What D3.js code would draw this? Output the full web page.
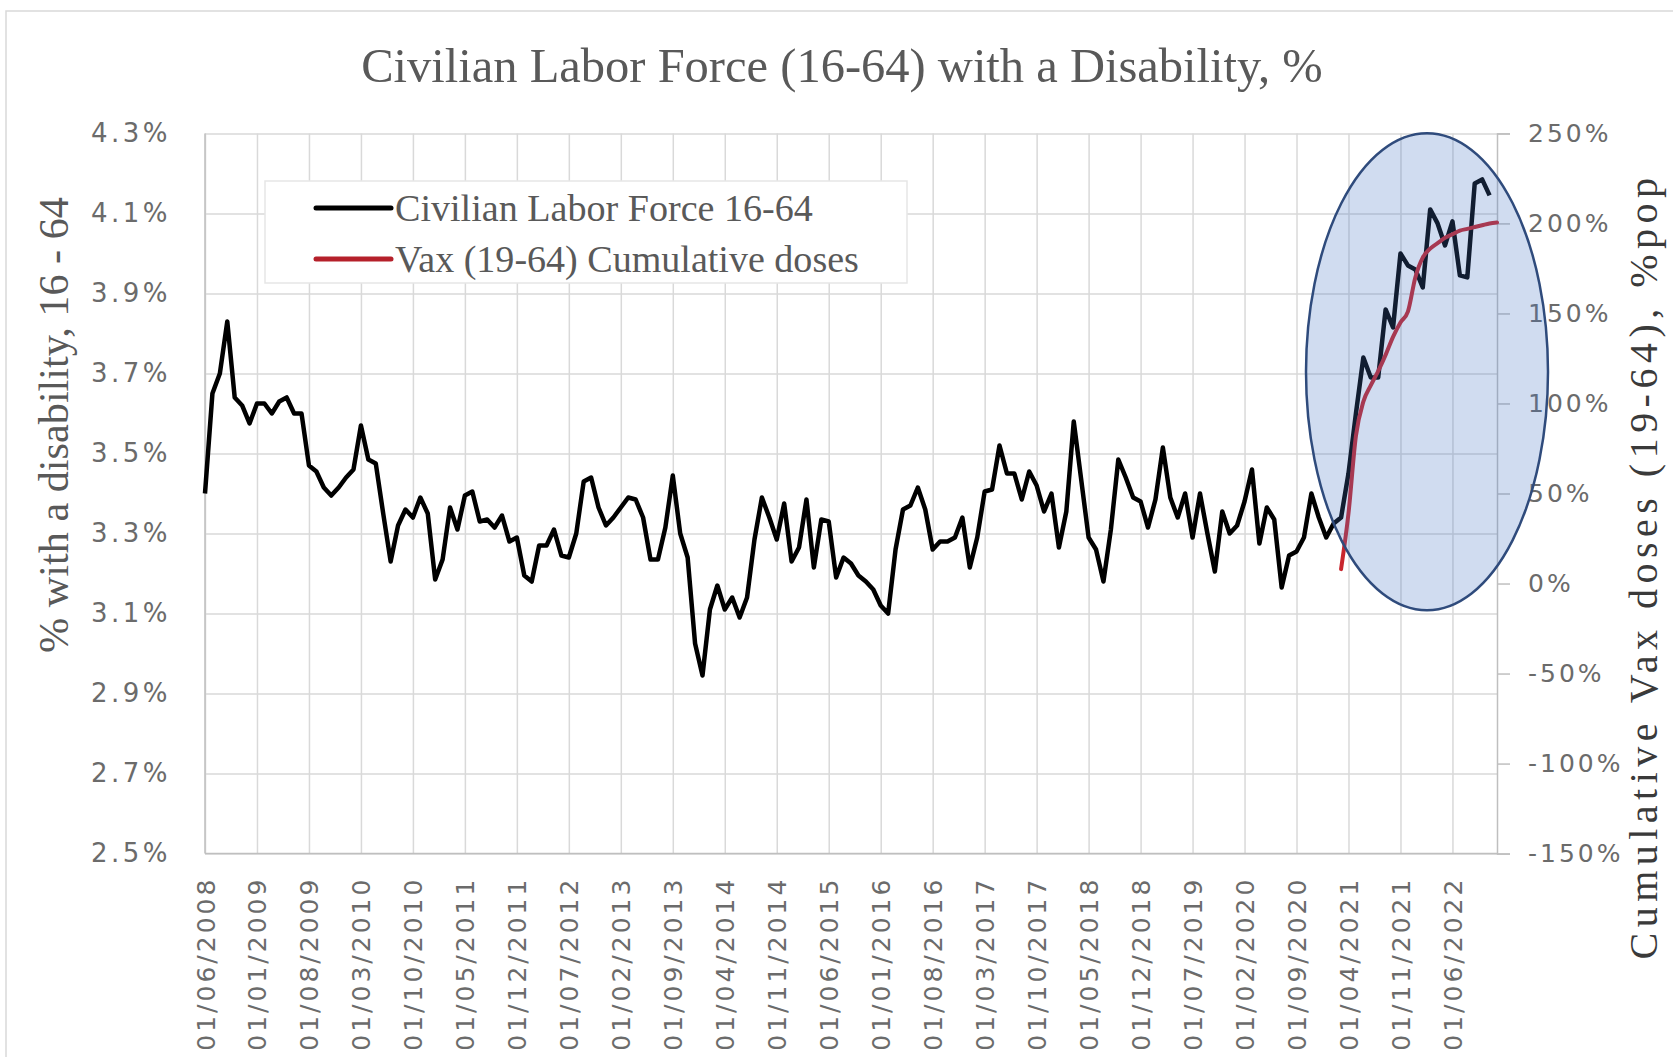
<!DOCTYPE html>
<html><head><meta charset="utf-8">
<script src="https://cdn.jsdelivr.net/npm/d3@7"></script>
<style>body{margin:0;background:#fff}</style>
</head><body>
<svg id="c" width="1673" height="1057"></svg>
<script>
// ---- data ----
const firstMonth = "01/06/2008";
const lastMonth = "01/12/2022";
const disability = [
3.40,3.65,3.70,3.83,3.64,3.62,3.575,3.625,3.625,3.60,
3.63,3.64,3.60,3.60,3.47,3.455,3.415,3.395,3.415,3.44,
3.46,3.57,3.485,3.475,3.35,3.23,3.32,3.36,3.34,3.39,
3.35,3.185,3.235,3.365,3.31,3.395,3.405,3.33,3.335,3.315,
3.345,3.28,3.29,3.195,3.18,3.27,3.27,3.31,3.245,3.24,
3.30,3.43,3.44,3.365,3.32,3.34,3.365,3.39,3.385,3.34,
3.235,3.235,3.315,3.445,3.30,3.24,3.025,2.945,3.11,3.17,
3.11,3.14,3.09,3.14,3.285,3.39,3.34,3.285,3.375,3.23,
3.265,3.385,3.215,3.335,3.33,3.19,3.24,3.225,3.195,3.18,
3.16,3.12,3.10,3.26,3.36,3.37,3.415,3.36,3.26,3.28,
3.28,3.29,3.34,3.215,3.29,3.405,3.41,3.52,3.45,3.45,
3.385,3.455,3.42,3.355,3.40,3.265,3.355,3.58,3.435,3.29,
3.26,3.18,3.31,3.485,3.44,3.39,3.38,3.315,3.385,3.515,
3.39,3.34,3.40,3.29,3.40,3.30,3.205,3.355,3.30,3.32,
3.38,3.46,3.275,3.365,3.335,3.165,3.245,3.255,3.29,3.40,
3.34,3.29,3.325,3.34,3.45,3.60,3.74,3.69,3.69,3.86,
3.815,4.00,3.97,3.96,3.915,4.11,4.075,4.02,4.08,3.945,
3.94,4.175,4.185,4.145
];
const vaxStart = "01/03/2021";
const vaxDoses = [8, 39, 82, 101, 110, 118, 127, 137, 145, 151, 170, 181, 186, 189, 192, 194, 196, 197, 198, 199, 200, 200.5];
const leftTicks = [2.5, 2.7, 2.9, 3.1, 3.3, 3.5, 3.7, 3.9, 4.1, 4.3];
const rightTicks = [-150, -100, -50, 0, 50, 100, 150, 200, 250];
const dateTicks = ["01/06/2008","01/01/2009","01/08/2009","01/03/2010","01/10/2010","01/05/2011","01/12/2011","01/07/2012","01/02/2013","01/09/2013","01/04/2014","01/11/2014","01/06/2015","01/01/2016","01/08/2016","01/03/2017","01/10/2017","01/05/2018","01/12/2018","01/07/2019","01/02/2020","01/09/2020","01/04/2021","01/11/2021","01/06/2022"];
const titleText = "Civilian Labor Force (16-64) with a Disability, %";
const leftTitle = "% with a disability, 16 - 64";
const rightTitle = "Cumulative Vax doses (19-64), %pop";
const seriesNames = ["Civilian Labor Force 16-64", "Vax (19-64) Cumulative doses"];

// ---- layout ----
const parse = d3.timeParse("%d/%m/%Y"), fmt = d3.timeFormat("%d/%m/%Y");
const months = d3.timeMonth.range(parse(firstMonth), d3.timeMonth.offset(parse(lastMonth), 1)).map(fmt);
const L = 205, R = 1497, T = 133.4, B = 853.6;
const svg = d3.select("#c");
const x = d3.scaleLinear().domain([0, months.length - 1]).range([L, R]);
const yL = d3.scaleLinear().domain([2.5, 4.3]).range([B, T]);
const yR = d3.scaleLinear().domain([-150, 250]).range([B, T]);
const grid = "#d9d9d9", tickCol = "#6b6b6b";
const sans = "'DejaVu Sans', sans-serif", serif = "'Liberation Serif', 'DejaVu Serif', serif";

// frame
svg.append("rect").attr("x", 6).attr("y", 11).attr("width", 1700).attr("height", 1100)
  .attr("fill", "none").attr("stroke", "#d9d9d9").attr("stroke-width", 1.5);

function fit(sel, w) {
  const fs = parseFloat(sel.attr("font-size"));
  const cw = sel.node().getComputedTextLength();
  sel.attr("font-size", fs * w / cw);
}
function spread(sel, w) {
  const n = sel.text().length;
  const cw = sel.node().getComputedTextLength();
  sel.attr("letter-spacing", (w - cw) / n);
}

// title
const t = svg.append("text").attr("x", 842).attr("y", 82).attr("text-anchor", "middle")
  .attr("font-family", serif).attr("font-size", 40).attr("fill", "#595959").text(titleText);
fit(t, 962);

// horizontal grid + left labels
const gL = svg.append("g").attr("transform", `translate(${L},0)`)
  .call(d3.axisLeft(yL).tickValues(leftTicks).tickSize(-(R - L)).tickPadding(34).tickFormat(d => d.toFixed(1) + "%"));
gL.select(".domain").remove();
gL.selectAll("line").attr("stroke", grid).attr("stroke-width", 1.5);
gL.selectAll("text").attr("font-family", sans).attr("font-size", 26).attr("letter-spacing", 3.5).attr("fill", tickCol);

// vertical grid + bottom labels
const tickIdx = dateTicks.map(d => months.indexOf(d));
const gB = svg.append("g").attr("transform", `translate(0,${B})`)
  .call(d3.axisBottom(x).tickValues(tickIdx).tickSize(-(B - T)).tickFormat(i => months[i]));
gB.select(".domain").remove();
gB.selectAll("line").attr("stroke", grid).attr("stroke-width", 1.5);
gB.selectAll("text").attr("font-family", sans).attr("font-size", 25).attr("letter-spacing", 3).attr("fill", tickCol)
  .attr("transform", "rotate(-90)").attr("text-anchor", "end").attr("x", -23).attr("y", 0).attr("dy", "0.36em");

// axis lines
svg.append("line").attr("x1", L).attr("x2", L).attr("y1", T).attr("y2", B).attr("stroke", "#bfbfbf").attr("stroke-width", 1.5);
svg.append("line").attr("x1", L).attr("x2", R).attr("y1", B).attr("y2", B).attr("stroke", "#bfbfbf").attr("stroke-width", 1.5);

// right axis
const gR = svg.append("g").attr("transform", `translate(${R},0)`)
  .call(d3.axisRight(yR).tickValues(rightTicks).tickSize(13).tickPadding(18).tickFormat(d => d + "%"));
gR.select(".domain").attr("stroke", "#bfbfbf").attr("stroke-width", 1.5);
gR.selectAll("line").attr("stroke", "#bfbfbf").attr("stroke-width", 1.5);
gR.selectAll("text").attr("font-family", sans).attr("font-size", 25).attr("letter-spacing", 3).attr("fill", tickCol);

// axis titles
const lt = svg.append("text").attr("transform", "translate(68,425) rotate(-90)").attr("text-anchor", "middle")
  .attr("font-family", serif).attr("font-size", 32).attr("fill", "#595959").text(leftTitle);
fit(lt, 456);
const rt = svg.append("text").attr("transform", "translate(1657,566) rotate(-90)").attr("text-anchor", "middle")
  .attr("font-family", serif).attr("font-size", 40).attr("fill", "#3a3a3a").text(rightTitle);
spread(rt, 787);

// series
const line = d3.line().defined(d => d[1] != null).x(d => x(d[0]));
svg.append("path").datum(disability.map((v, i) => [i, v]))
  .attr("d", line.y(d => yL(d[1]))).attr("fill", "none").attr("stroke", "#000")
  .attr("stroke-width", 4.5).attr("stroke-linejoin", "round");
const v0 = months.indexOf(vaxStart);
svg.append("path").datum(vaxDoses.map((v, i) => [v0 + i, v]))
  .attr("d", d3.line().x(d => x(d[0])).y(d => yR(d[1])).curve(d3.curveMonotoneX))
  .attr("fill", "none").attr("stroke", "#c8262d").attr("stroke-width", 4).attr("stroke-linecap", "round");

// legend
const lg = svg.append("g");
lg.append("rect").attr("x", 265).attr("y", 181).attr("width", 642).attr("height", 102)
  .attr("fill", "#fff").attr("stroke", "#e6e6e6").attr("stroke-width", 1.5);
const lcol = ["#000", "#b5202a"], lw = [418, 464];
seriesNames.forEach((n, k) => {
  const yy = 208 + k * 51;
  lg.append("line").attr("x1", 316).attr("x2", 391).attr("y1", yy).attr("y2", yy)
    .attr("stroke", lcol[k]).attr("stroke-width", 5).attr("stroke-linecap", "round");
  const tx = lg.append("text").attr("x", 395).attr("y", yy).attr("dy", "0.33em")
    .attr("font-family", serif).attr("font-size", 32).attr("fill", "#595959").text(n);
  fit(tx, lw[k]);
});

// highlight ellipse
svg.append("ellipse").attr("cx", 1427).attr("cy", 371.7).attr("rx", 121).attr("ry", 238.5)
  .attr("fill", "#4472c4").attr("fill-opacity", 0.25).attr("stroke", "#2f4b7c").attr("stroke-width", 2.5);
</script>
</body></html>
